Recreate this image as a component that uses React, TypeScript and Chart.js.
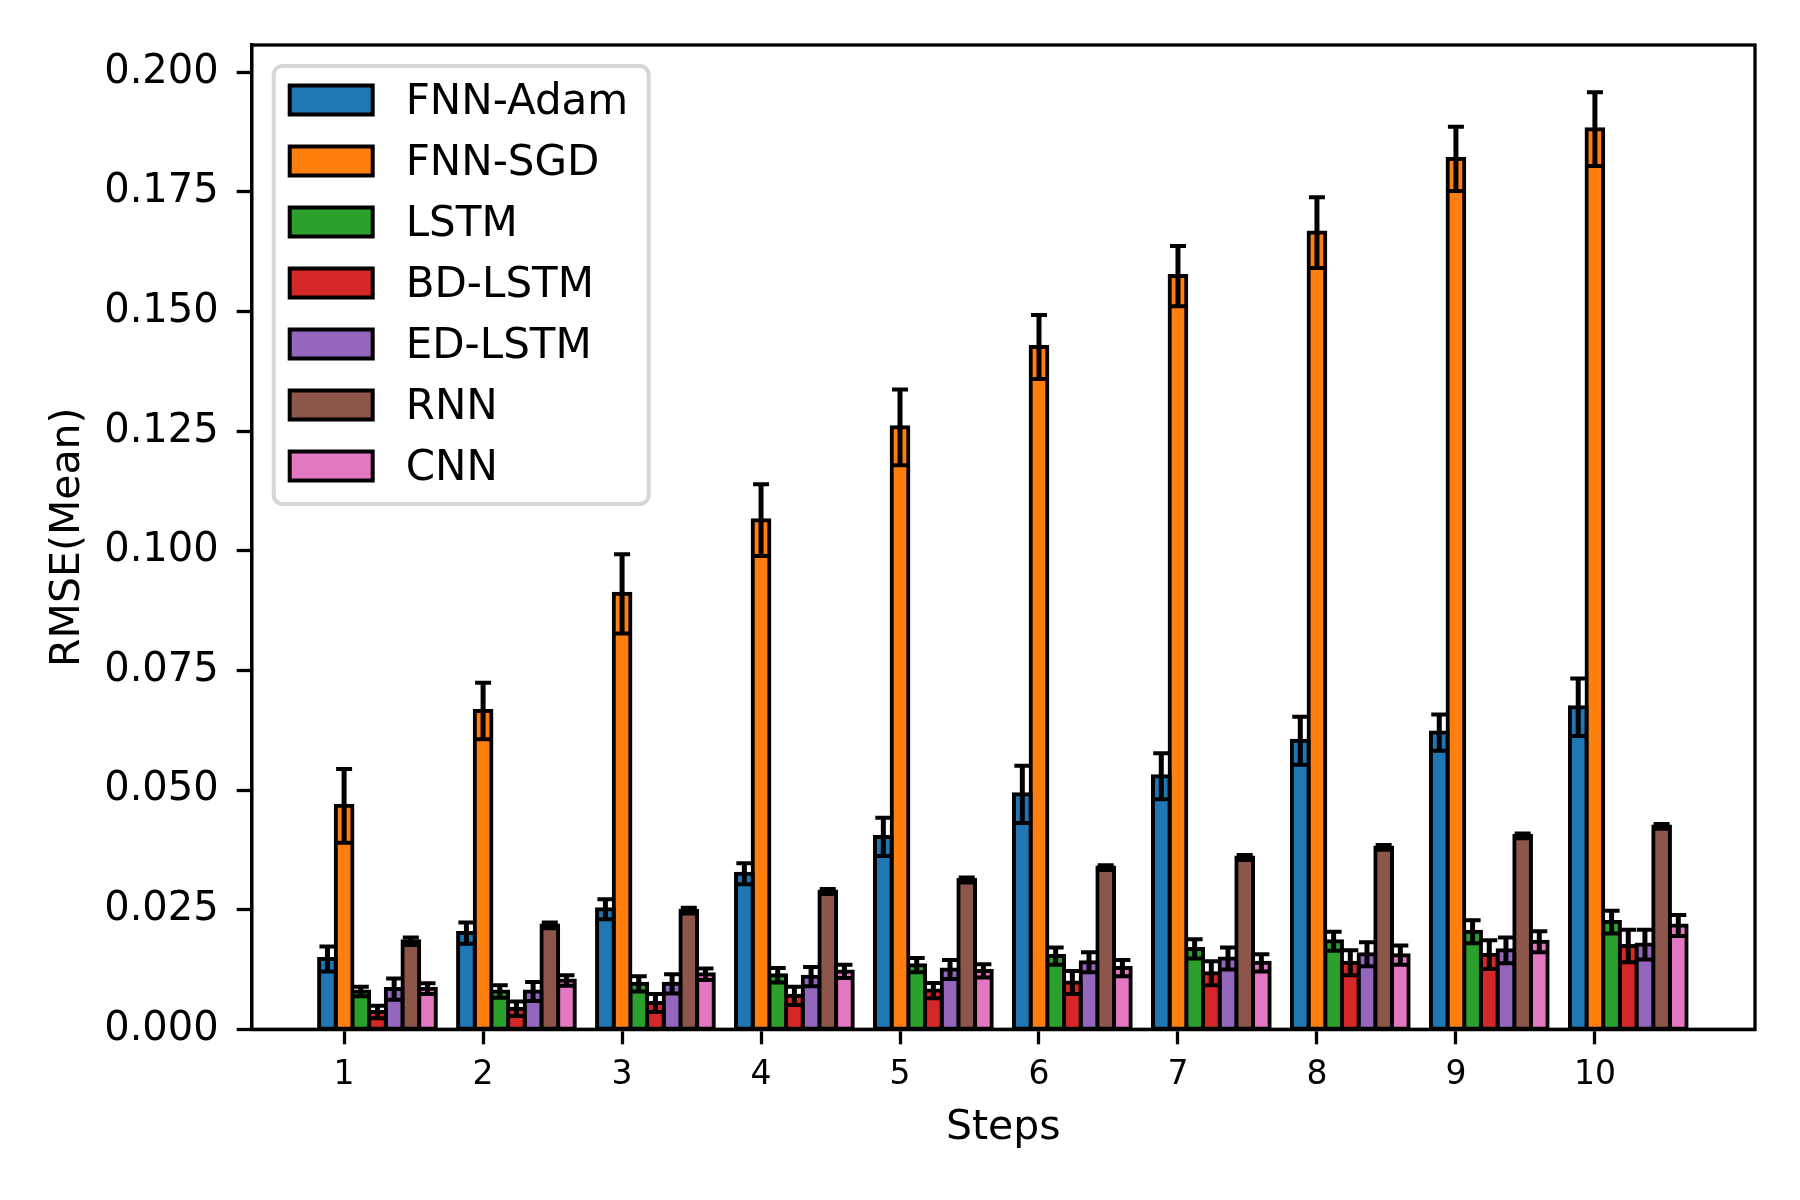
import { useEffect, useRef } from 'react'
import { Chart, registerables } from 'chart.js'

Chart.register(...registerables)

const steps = [1, 2, 3, 4, 5, 6, 7, 8, 9, 10]
const yTicks = [0, 0.025, 0.05, 0.075, 0.1, 0.125, 0.15, 0.175, 0.2]

const seriesNames = ['FNN-Adam', 'FNN-SGD', 'LSTM', 'BD-LSTM', 'ED-LSTM', 'RNN', 'CNN']
const seriesColors = ['#1f77b4', '#ff7f0e', '#2ca02c', '#d62728', '#9467bd', '#8c564b', '#e377c2']

const fnnAdam = [0.0147, 0.0201, 0.0251, 0.0325, 0.0402, 0.0491, 0.0529, 0.0603, 0.062, 0.0673]
const fnnAdamErr = [0.0026, 0.0022, 0.0021, 0.0022, 0.004, 0.006, 0.0048, 0.005, 0.0038, 0.006]
const fnnSgd = [0.0467, 0.0665, 0.091, 0.1064, 0.1258, 0.1426, 0.1574, 0.1665, 0.1819, 0.1881]
const fnnSgdErr = [0.0077, 0.0059, 0.0083, 0.0075, 0.0079, 0.0067, 0.0063, 0.0074, 0.0067, 0.0077]
const lstm = [0.0079, 0.0079, 0.0095, 0.0113, 0.0134, 0.0153, 0.0168, 0.0184, 0.0204, 0.0224]
const lstmErr = [0.001, 0.0013, 0.0016, 0.0015, 0.0015, 0.0018, 0.002, 0.002, 0.0024, 0.0024]
const bdLstm = [0.0036, 0.0043, 0.0055, 0.007, 0.0081, 0.0098, 0.0117, 0.0139, 0.0156, 0.0174]
const bdLstmErr = [0.0013, 0.0015, 0.0019, 0.0019, 0.0016, 0.0024, 0.0025, 0.0026, 0.003, 0.0034]
const edLstm = [0.0084, 0.0079, 0.0095, 0.011, 0.0125, 0.014, 0.0148, 0.0157, 0.0165, 0.0177]
const edLstmErr = [0.0022, 0.002, 0.002, 0.002, 0.002, 0.0021, 0.0023, 0.0025, 0.0027, 0.0031]
const rnn = [0.0184, 0.0217, 0.0248, 0.0288, 0.0312, 0.0338, 0.0359, 0.038, 0.0404, 0.0424]
const rnnErr = [0.0008, 0.0006, 0.0006, 0.0005, 0.0005, 0.0005, 0.0005, 0.0005, 0.0005, 0.0005]
const cnn = [0.0085, 0.0102, 0.0115, 0.0121, 0.0122, 0.0128, 0.0139, 0.0155, 0.0183, 0.0217]
const cnnErr = [0.0011, 0.0011, 0.0012, 0.0014, 0.0014, 0.0017, 0.0018, 0.002, 0.0022, 0.0022]

const seriesValues = [fnnAdam, fnnSgd, lstm, bdLstm, edLstm, rnn, cnn]
const seriesErrors = [fnnAdamErr, fnnSgdErr, lstmErr, bdLstmErr, edLstmErr, rnnErr, cnnErr]

const BAR_W = 0.12
const FONT = '"DejaVu Sans", sans-serif'

const errorBars = {
  id: 'errorBars',
  afterDatasetsDraw(chart: any) {
    const { ctx } = chart
    const y = chart.scales.y
    ctx.save()
    ctx.strokeStyle = '#000'
    chart.data.datasets.forEach((ds: any, i: number) => {
      const meta = chart.getDatasetMeta(i)
      meta.data.forEach((bar: any, j: number) => {
        const v = seriesValues[i][j]
        const e = seriesErrors[i][j]
        const top = y.getPixelForValue(v + e)
        const bot = y.getPixelForValue(v - e)
        ctx.lineWidth = 5
        ctx.beginPath()
        ctx.moveTo(bar.x, top)
        ctx.lineTo(bar.x, bot)
        ctx.stroke()
        ctx.lineWidth = 4
        ctx.beginPath()
        ctx.moveTo(bar.x - 8, top)
        ctx.lineTo(bar.x + 8, top)
        ctx.moveTo(bar.x - 8, bot)
        ctx.lineTo(bar.x + 8, bot)
        ctx.stroke()
      })
    })
    // axes frame on top of the bars
    const a = chart.chartArea
    ctx.lineWidth = 3.3
    ctx.strokeRect(a.left, a.top, a.right - a.left, a.bottom - a.top)
    ctx.restore()
  }
}

const boxLegend = {
  id: 'boxLegend',
  afterDraw(chart: any) {
    const { ctx, chartArea } = chart
    const x0 = chartArea.left + 22
    const y0 = chartArea.top + 21
    ctx.save()
    ctx.beginPath()
    ctx.roundRect(x0, y0, 375, 438, 9)
    ctx.fillStyle = 'rgba(255,255,255,0.8)'
    ctx.fill()
    ctx.strokeStyle = '#d6d6d6'
    ctx.lineWidth = 4
    ctx.stroke()
    ctx.font = '42px ' + FONT
    ctx.textBaseline = 'middle'
    chart.data.datasets.forEach((ds: any, i: number) => {
      const cy = y0 + 34 + i * 61
      ctx.fillStyle = ds.backgroundColor
      ctx.fillRect(x0 + 16, cy - 14.5, 83, 29)
      ctx.strokeStyle = '#000'
      ctx.lineWidth = 4
      ctx.strokeRect(x0 + 16, cy - 14.5, 83, 29)
      ctx.fillStyle = '#000'
      ctx.fillText(ds.label, x0 + 132, cy + 3)
    })
    ctx.restore()
  }
}

export default function App() {
  const ref = useRef<HTMLCanvasElement>(null)

  useEffect(() => {
    if (!ref.current) return
    const chart = new Chart(ref.current, {
      type: 'bar',
      data: {
        datasets: seriesNames.map((name, i) => ({
          label: name,
          data: steps.map((s, j) => ({ x: s + (i - 1) * BAR_W, y: seriesValues[i][j] })),
          backgroundColor: seriesColors[i],
          borderColor: '#000',
          borderWidth: 4,
          borderSkipped: false,
          inflateAmount: 2,
          grouped: false,
          barPercentage: 1,
          categoryPercentage: 1
        }))
      },
      options: {
        animation: false,
        responsive: true,
        maintainAspectRatio: false,
        events: [],
        layout: { padding: { left: 0, top: 45, right: 45, bottom: 0 } },
        plugins: { legend: { display: false }, tooltip: { enabled: false } },
        scales: {
          x: {
            type: 'linear',
            min: 0.335,
            max: 11.152,
            offset: false,
            afterBuildTicks: (s: any) => { s.ticks = steps.map(v => ({ value: v })) },
            afterFit: (s: any) => { s.height = 170.7 },
            ticks: {
              autoSkip: false,
              maxRotation: 0,
              padding: 11.5,
              color: '#000',
              font: { family: FONT, size: 33 },
              callback: (v: any) => String(v)
            },
            grid: { offset: false, drawOnChartArea: false, drawTicks: true, tickLength: 15, tickWidth: 3.3, tickColor: '#000' },
            border: { display: true, color: '#000', width: 3.3 },
            title: { display: true, text: 'Steps', color: '#000', font: { family: FONT, size: 41 }, padding: { top: 0, bottom: 47 } }
          },
          y: {
            min: 0,
            max: 0.2057,
            afterBuildTicks: (s: any) => { s.ticks = yTicks.map(v => ({ value: v })) },
            afterFit: (s: any) => { s.width = 251.7 },
            ticks: {
              padding: 18,
              color: '#000',
              font: { family: FONT, size: 40 },
              callback: (v: any) => Number(v).toFixed(3)
            },
            grid: { drawOnChartArea: false, drawTicks: true, tickLength: 15, tickWidth: 3.3, tickColor: '#000' },
            border: { display: true, color: '#000', width: 3.3 },
            title: { display: true, text: 'RMSE(Mean)', color: '#000', font: { family: FONT, size: 41 }, padding: { top: 44, bottom: 0 } }
          }
        }
      },
      plugins: [errorBars, boxLegend]
    })
    return () => { chart.destroy() }
  }, [])

  return (
    <div style={{ position: 'absolute', left: 0, top: 0, width: 1800, height: 1200, background: '#fff' }}>
      <canvas ref={ref} />
    </div>
  )
}
